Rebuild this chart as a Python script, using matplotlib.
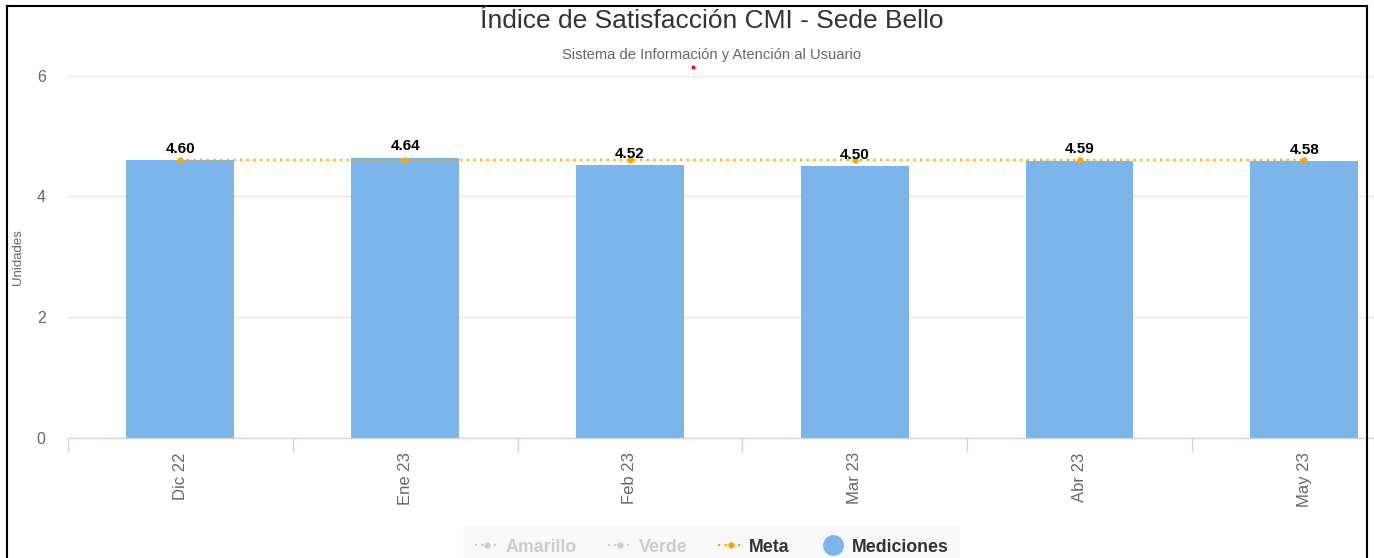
import matplotlib
matplotlib.use("Agg")
from matplotlib import pyplot as plt
from matplotlib.lines import Line2D

plt.rcParams['font.family'] = ['Liberation Sans', 'DejaVu Sans']

meses = ['Dic 22', 'Ene 23', 'Feb 23', 'Mar 23', 'Abr 23', 'May 23']
mediciones = [4.60, 4.64, 4.52, 4.50, 4.59, 4.58]
meta = [4.6, 4.6, 4.6, 4.6, 4.6, 4.6]
series_leyenda = ['Amarillo', 'Verde', 'Meta', 'Mediciones']

W, H = 1374, 558
fig = plt.figure(figsize=(W / 100, H / 100), dpi=100)

# area del grafico en pixeles (se sale por la derecha, como en la captura)
x0, x1 = 67.9, 1416.7
y_top, y_cero = 75.5, 437.7
ax = fig.add_axes([x0 / W, 1 - y_cero / H, (x1 - x0) / W, (y_cero - y_top) / H])

pos = list(range(len(meses)))
ax.bar(pos, mediciones, width=0.48, color='#7cb5ec', zorder=2)
ax.plot(pos, meta, color='#ffa500', linestyle=(0, (1, 2.0)), linewidth=1.6,
        marker='o', markersize=3.5, zorder=3)

for i, v in enumerate(mediciones):
    ax.annotate(f'{v:.2f}', (i, v), xytext=(0, 3), textcoords='offset points',
                ha='center', va='bottom', fontsize=11, fontweight='bold',
                color='#000000', zorder=4)

ax.set_xlim(-0.5, len(meses) - 0.5)
ax.set_ylim(0, 6)
ax.set_yticks([0, 2, 4, 6])
ax.grid(axis='y', color='#e6e6e6', linewidth=1, zorder=0)
ax.set_axisbelow(True)

for s in ['top', 'right', 'left']:
    ax.spines[s].set_visible(False)
ax.spines['bottom'].set_color('#ccd6eb')
ax.spines['bottom'].set_linewidth(1)

ax.set_xticks(pos)
ax.set_xticklabels(meses, rotation=90)
ax.set_xticks([p - 0.5 for p in range(len(meses) + 1)], minor=True)
ax.tick_params(axis='x', which='major', length=0, pad=10.5, labelsize=12, labelcolor='#666666')
ax.tick_params(axis='x', which='minor', length=10, color='#ccd6eb', width=1)
ax.tick_params(axis='y', length=0, pad=16, labelsize=11.5, labelcolor='#666666')

ax.set_ylabel('Unidades', fontsize=9.5, color='#666666')
ax.yaxis.set_label_coords((24 - x0) / (x1 - x0), 0.5)

fig.text(712 / W, 1 - 21 / H, 'Índice de Satisfacción CMI - Sede Bello',
         ha='center', va='center', fontsize=19, color='#333333')
fig.text(712 / W, 1 - 54.5 / H, 'Sistema de Información y Atención al Usuario',
         ha='center', va='center', fontsize=10.6, color='#666666')
fig.add_artist(Line2D([693 / W], [1 - 67 / H], marker='o', markersize=1.8,
                      color='red', transform=fig.transFigure))

# leyenda
handles = [
    Line2D([], [], color='#cccccc', linestyle=(0, (1, 2)), marker='o', markersize=3.5),
    Line2D([], [], color='#cccccc', linestyle=(0, (1, 2)), marker='o', markersize=3.5),
    Line2D([], [], color='#ffa500', linestyle=(0, (1, 2)), linewidth=1.6, marker='o', markersize=3.5),
    Line2D([], [], color='#7cb5ec', linestyle='none', marker='o', markersize=14),
]
leg = fig.legend(handles, series_leyenda, loc='center', ncol=4,
                 bbox_to_anchor=(711.5 / W, 1 - 547 / H), frameon=True,
                 fancybox=False, facecolor='#f7f7f7', edgecolor='none',
                 prop={'size': 12.8, 'weight': 'bold'}, handlelength=1.4,
                 handletextpad=0.34, columnspacing=1.74, borderpad=0.67)
for t, c in zip(leg.get_texts(), ['#cccccc', '#cccccc', '#333333', '#333333']):
    t.set_color(c)

# marco negro de la captura
borde = dict(color='black', linewidth=1.5, transform=fig.transFigure)
fig.add_artist(Line2D([7 / W, 1367 / W], [1 - 6 / H, 1 - 6 / H], **borde))
fig.add_artist(Line2D([7 / W, 7 / W], [1 - 6 / H, 0], **borde))
fig.add_artist(Line2D([1367 / W, 1367 / W], [1 - 6 / H, 0], **borde))

fig.savefig('out.png', dpi=100)
